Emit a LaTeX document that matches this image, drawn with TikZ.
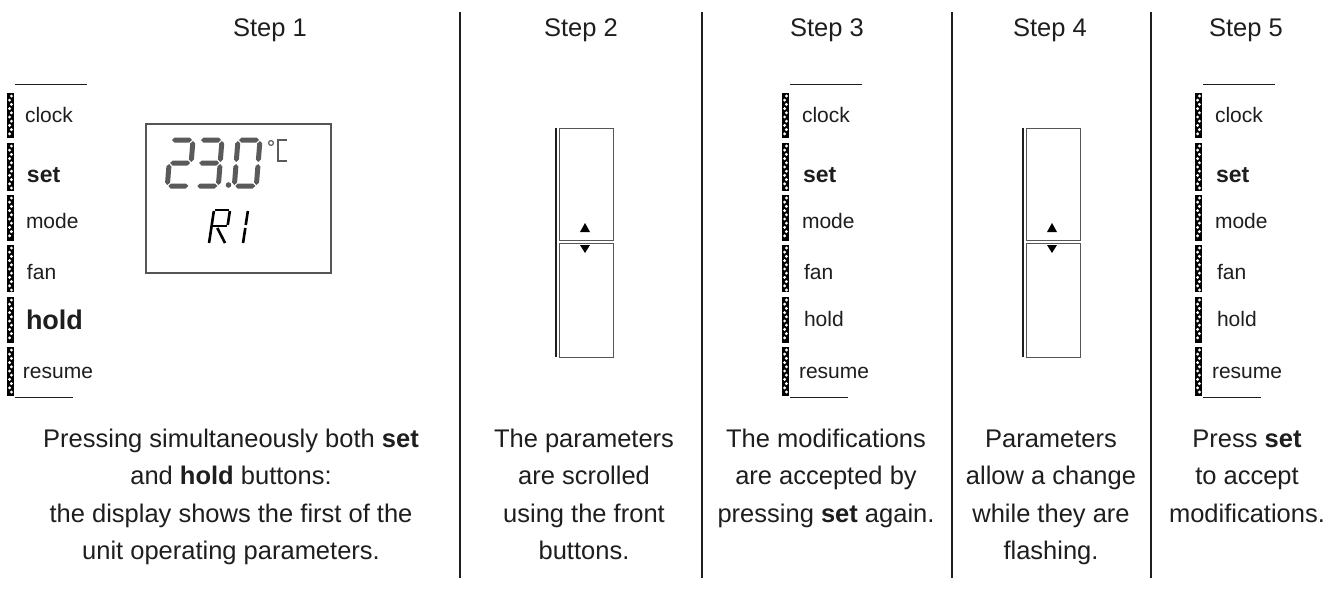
\documentclass[tikz,border=0pt]{standalone}
\usepackage{fontspec}
\setmainfont{Liberation Sans}
\definecolor{ink}{HTML}{1E1E1E}
\definecolor{lcd}{HTML}{5A5A5A}
\definecolor{boxgray}{HTML}{555555}
\newcommand\zipseg[3]{%
  \fill[black] (#1,#2) rectangle (#1+7,#3);
  \pgfmathtruncatemacro\zipn{(#3-#2-5)/4.2}%
  \foreach \i in {0,...,\zipn}{\fill[white] ({#1+3.5+0.9*(-1)^\i},{#2+3+4.2*\i}) circle (1.6pt);}%
}
\newcommand\zipstrip[1]{%
  \zipseg{#1}{93}{138}\zipseg{#1}{143}{191}\zipseg{#1}{195}{241}%
  \zipseg{#1}{245}{292}\zipseg{#1}{297}{343}\zipseg{#1}{347}{396}%
  \draw[ink, line width=1pt] (#1+8,84) -- (#1+80,84);
  \draw[ink, line width=1pt] (#1+8,397) -- (#1+66,397);
}
\newcommand\hseg[3]{\fill[lcd] (#1,#2) -- ++(2.5,-2.5) -- ++(#3-5,0) -- ++(2.5,2.5) -- ++(-2.5,2.5) -- ++(-#3+5,0) -- cycle;}
\newcommand\vseg[3]{\fill[lcd] (#1,#2) -- ++(2.5,2.5) -- ++(0,#3-5) -- ++(-2.5,2.5) -- ++(-2.5,-2.5) -- ++(0,-#3+5) -- cycle;}
\newcommand\rocker[1]{%
  \draw[ink, line width=2pt] (#1-30,128) -- (#1-30,357);
  \draw[boxgray, line width=1pt] (#1-27,128) rectangle (#1+27,240);
  \draw[boxgray, line width=1pt] (#1-27,243) rectangle (#1+27,357);
  \fill[black] (#1-1,223) -- (#1-6,232) -- (#1+4,232) -- cycle;
  \fill[black] (#1-6,245) -- (#1+4,245) -- (#1-1,253) -- cycle;
}
\begin{document}
\begin{tikzpicture}[x=1pt,y=-1pt,
  every node/.style={inner sep=0pt, outer sep=0pt, text=ink},
  steptitle/.style={font=\fontsize{25.5}{30}\selectfont, anchor=base},
  body/.style={font=\fontsize{25.5}{37.5}\selectfont, align=center, anchor=base},
  lbl/.style={font=\fontsize{21}{24}\selectfont, anchor=west},
  lblset/.style={font=\fontsize{23}{24}\selectfont\bfseries, anchor=west},
  lblhold/.style={font=\fontsize{27}{30}\selectfont\bfseries, anchor=west},
  divider/.style={line width=2pt, draw=ink}]
\useasboundingbox (0,0) rectangle (1342,590);
\fill[white] (0,0) rectangle (1342,590);

% titles
\node[steptitle] (t1) at (270,36) {Step 1};
\node[steptitle] (t2) at (581,36) {Step 2};
\node[steptitle] (t3) at (827,36) {Step 3};
\node[steptitle] (t4) at (1050,36) {Step 4};
\node[steptitle] (t5) at (1246,36) {Step 5};

% dividers
\coordinate (d1a) at (460,12); \coordinate (d1b) at (460,578);
\coordinate (d2a) at (702,12); \coordinate (d2b) at (702,578);
\coordinate (d3a) at (952,12); \coordinate (d3b) at (952,578);
\coordinate (d4a) at (1151,12); \coordinate (d4b) at (1151,578);
\draw[divider] (d1a) -- (d1b);
\draw[divider] (d2a) -- (d2b);
\draw[divider] (d3a) -- (d3b);
\draw[divider] (d4a) -- (d4b);

% Step 1 strip
\zipstrip{7}
\node[lbl] (c1) at (25,115) {clock};
\node[lblset] (s1) at (27,175) {set};
\node[lbl] (m1) at (26,221) {mode};
\node[lbl] (f1) at (27,272) {fan};
\node[lblhold] (h1) at (26,320) {hold};
\node[lbl] (r1) at (23,373) {resume};

% display
\draw[boxgray, line width=1.3pt] (146,124) rectangle (331,273);
\begin{scope}[shift={(171,140)}, xslant=0.08]
  \hseg{1}{0}{20}\vseg{22}{1}{21}\hseg{1}{23}{20}\vseg{0}{24}{21}\hseg{1}{46}{20}
\end{scope}
\begin{scope}[shift={(200,140)}, xslant=0.08]
  \hseg{1}{0}{20}\vseg{22}{1}{21}\hseg{1}{23}{20}\vseg{22}{24}{21}\hseg{1}{46}{20}
\end{scope}
\fill[lcd] (228.5,185) circle (2.8pt);
\begin{scope}[shift={(238,140)}, xslant=0.08]
  \hseg{1}{0}{20}\vseg{22}{1}{21}\vseg{22}{24}{21}\hseg{1}{46}{20}\vseg{0}{24}{21}\vseg{0}{1}{21}
\end{scope}
\draw[lcd, line width=1.2pt] (271,143) circle (2.4pt);
\draw[lcd, line width=1.6pt] (287,140) -- (278,140) -- (278,161) -- (287,161);
\begin{scope}[shift={(214,210)}, xslant=0.15, line width=2.6pt, black]
  \draw (0,33) -- (0,1);
  \draw (1,0) -- (15,0);
  \draw (16,1) -- (16,15);
  \draw (1,16) -- (15,16);
  \draw (6,18) -- (16,33);
  \draw (34,1) -- (34,15);
  \draw (34,18) -- (34,33);
\end{scope}

% Step 2 rocker
\rocker{586}

% Step 3 strip
\zipstrip{782}
\node[lbl] (c3) at (802,115) {clock};
\node[lblset] (s3) at (803,175) {set};
\node[lbl] (m3) at (802,221) {mode};
\node[lbl] (f3) at (804,272) {fan};
\node[lbl] (h3) at (804,319) {hold};
\node[lbl] (r3) at (799,373) {resume};

% Step 4 rocker
\rocker{1053}

% Step 5 strip
\zipstrip{1195}
\node[lbl] (c5) at (1215,115) {clock};
\node[lblset] (s5) at (1216,175) {set};
\node[lbl] (m5) at (1215,221) {mode};
\node[lbl] (f5) at (1217,272) {fan};
\node[lbl] (h5) at (1217,319) {hold};
\node[lbl] (r5) at (1212,373) {resume};

% bottom texts (anchor=base is the baseline of the last line)
\node[body] (b1) at (231,559.5) {Pressing simultaneously both \textbf{set}\\and \textbf{hold} buttons:\\the display shows the first of the\\unit operating parameters.};
\node[body] (b2) at (584,559.5) {The parameters\\are scrolled\\using the front\\buttons.};
\node[body] (b3) at (826,522) {The modifications\\are accepted by\\pressing \textbf{set} again.};
\node[body] (b4) at (1051,559.5) {Parameters\\allow a change\\while they are\\flashing.};
\node[body] (b5) at (1247,522) {Press \textbf{set}\\to accept\\modifications.};
\end{tikzpicture}
\end{document}
